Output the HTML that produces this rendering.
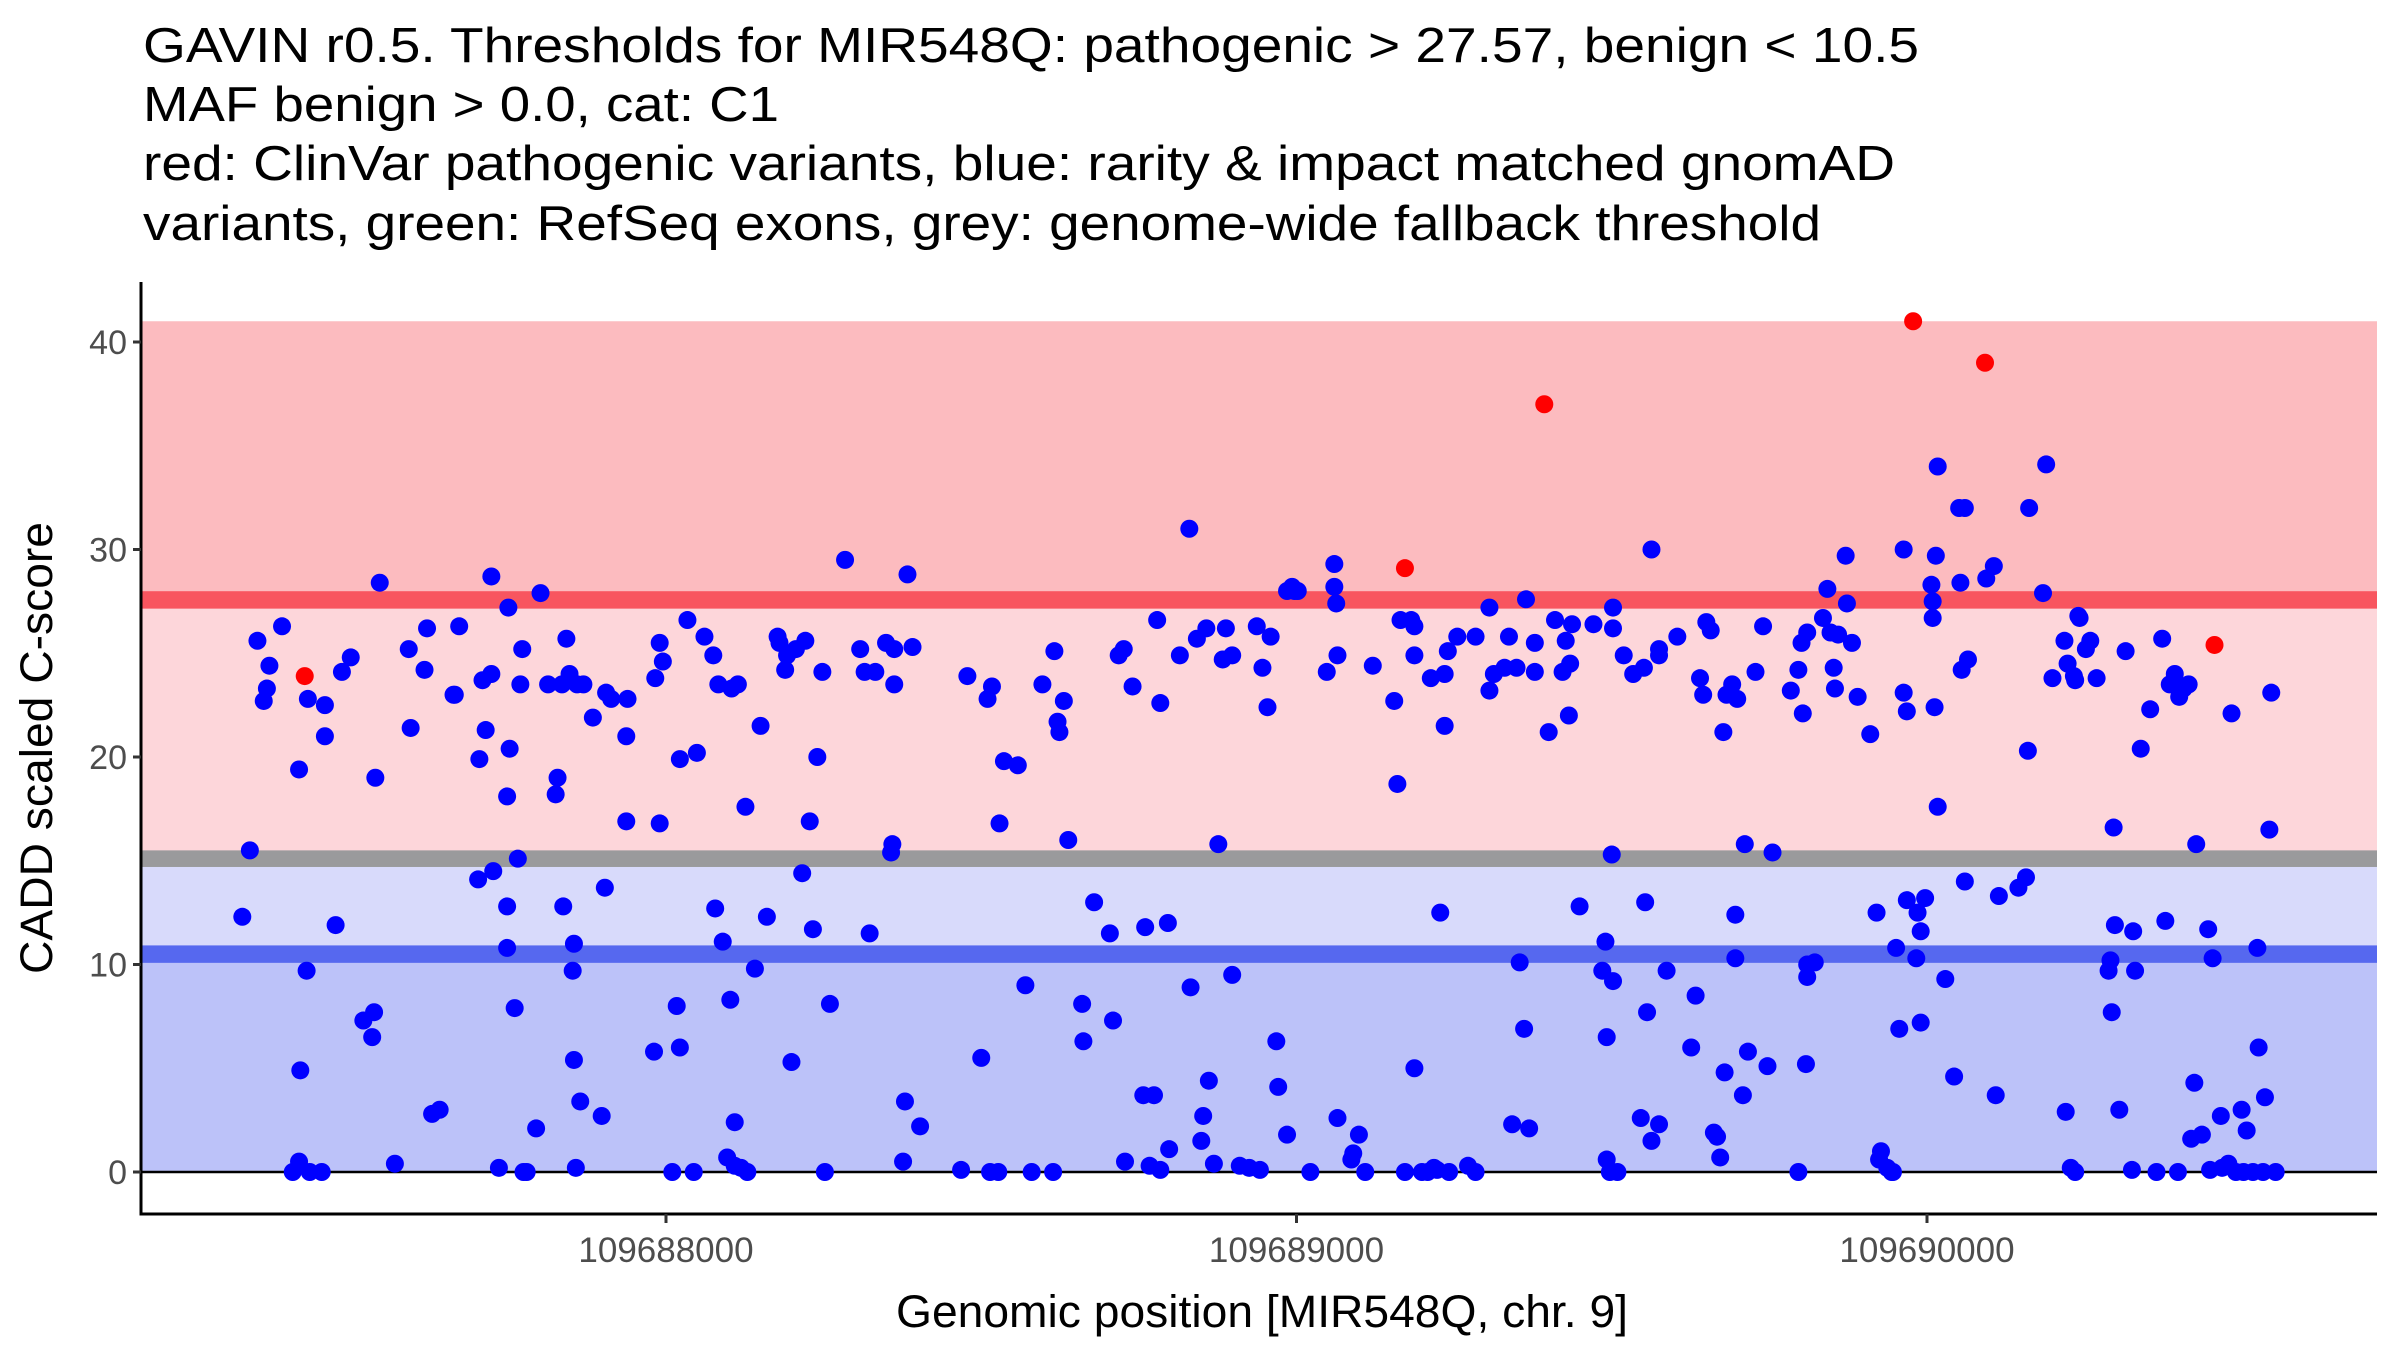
<!DOCTYPE html>
<html><head><meta charset="utf-8">
<style>
html,body{margin:0;padding:0;background:#fff;}
svg{display:block;font-family:"Liberation Sans",Arial,sans-serif;}
</style></head>
<body>
<svg id="chart" width="2400" height="1350" viewBox="0 0 2400 1350" xmlns="http://www.w3.org/2000/svg">
  <g font-size="49" fill="#000">
    <text x="143" y="62" textLength="1776" lengthAdjust="spacingAndGlyphs">GAVIN r0.5. Thresholds for MIR548Q: pathogenic &gt; 27.57, benign &lt; 10.5</text>
    <text x="143" y="121" textLength="636" lengthAdjust="spacingAndGlyphs">MAF benign &gt; 0.0, cat: C1</text>
    <text x="143" y="180" textLength="1752" lengthAdjust="spacingAndGlyphs">red: ClinVar pathogenic variants, blue: rarity &amp; impact matched gnomAD</text>
    <text x="143" y="240" textLength="1678" lengthAdjust="spacingAndGlyphs">variants, green: RefSeq exons, grey: genome-wide fallback threshold</text>
  </g>
  <g id="bands"></g>
  <g id="points"></g>
  <g id="axes"></g>
  <text x="1262" y="1327" font-size="45" text-anchor="middle" fill="#000" textLength="732" lengthAdjust="spacingAndGlyphs">Genomic position [MIR548Q, chr. 9]</text>
  <text transform="translate(52,748) rotate(-90)" font-size="45" text-anchor="middle" fill="#000" textLength="452" lengthAdjust="spacingAndGlyphs">CADD scaled C-score</text>
</svg>
<script>
// positions are given as bp offset from 109688000
const positionOrigin = 109688000;
const xTickValues = [109688000, 109689000, 109690000];
const yTickValues = [0, 10, 20, 30, 40];
const pathogenicThreshold = 27.57;
const benignThreshold = 10.5;
const fallbackThreshold = 15.1;
const bandTop = 41;
const redVariants = [[-573,23.9],[1172,29.1],[1393,37.0],[1978,41.0],[2092,39.0],[2456,25.4]];
const blueVariants = [
[-672,12.3],[-660,15.5],[-648,25.6],[-638,22.7],[-633,23.3],[-629,24.4],[-609,26.3],[-592,0],[-582,0.5],[-580,4.9],[-582,19.4],
[-570,9.7],[-568,22.8],[-565,0],[-546,0],[-541,22.5],[-541,21.0],[-524,11.9],[-514,24.1],[-500,24.8],[-480,7.3],[-463,7.7],[-466,6.5],
[-461,19.0],[-454,28.4],[-430,0.4],[-408,25.2],[-405,21.4],[-383,24.2],[-379,26.2],[-371,2.8],[-359,3.0],[-337,23.0],[-335,23.0],
[-328,26.3],[-298,14.1],[-296,19.9],[-291,23.7],[-286,21.3],[-277,28.7],[-277,24.0],[-274,14.5],[-265,0.2],[-252,10.8],[-252,12.8],
[-252,18.1],[-250,27.2],[-248,20.4],[-240,7.9],[-235,15.1],[-231,23.5],[-228,25.2],[-226,0],[-221,0],[-206,2.1],[-199,27.9],[-187,23.5],
[-175,18.2],[-172,19.0],[-165,23.5],[-163,12.8],[-158,25.7],[-153,24.0],[-148,9.7],[-146,11.0],[-146,5.4],[-143,0.2],[-141,23.5],
[-136,3.4],[-131,23.5],[-116,21.9],[-102,2.7],[-97,13.7],[-95,23.1],[-87,22.8],[-63,16.9],[-63,21.0],[-61,22.8],[-19,5.8],[-17,23.8],
[-10,16.8],[-10,25.5],[-5,24.6],[10,0],[17,8.0],[22,6.0],[22,19.9],[34,26.6],[44,0],[49,20.2],[61,25.8],[75,24.9],[78,12.7],[83,23.5],
[90,11.1],[97,0.7],[102,8.3],[104,23.3],[109,2.4],[109,0.3],[114,23.5],[119,0.2],[129,0],[126,17.6],[141,9.8],[150,21.5],[160,12.3],
[177,25.8],[180,25.5],[189,24.2],[192,24.9],[199,5.3],[206,25.2],[216,14.4],[221,25.6],[228,16.9],[233,11.7],[240,20.0],[248,24.1],
[252,0],[260,8.1],[284,29.5],[308,25.2],[315,24.1],[323,11.5],[332,24.1],[349,25.5],[357,15.4],[359,15.8],[362,25.2],[362,23.5],
[376,0.5],[379,3.4],[383,28.8],[391,25.3],[403,2.2],[468,0.1],[478,23.9],[500,5.5],[510,22.8],[514,0],[517,23.4],[527,0],[529,16.8],
[536,19.8],[558,19.6],[570,9.0],[580,0],[597,23.5],[614,0],[616,25.1],[621,21.7],[624,21.2],[631,22.7],[638,16.0],[660,8.1],[662,6.3],
[679,13.0],[704,11.5],[709,7.3],[718,24.9],[726,25.2],[728,0.5],[740,23.4],[757,3.7],[760,11.8],[767,0.3],[774,3.7],[779,26.6],
[784,22.6],[784,0.1],[796,12.0],[798,1.1],[815,24.9],[830,31.0],[832,8.9],[842,25.7],[849,1.5],[852,2.7],[857,26.2],[861,4.4],
[869,0.4],[876,15.8],[883,24.7],[888,26.2],[898,24.9],[898,9.5],[910,0.3],[925,0.2],[937,26.3],[942,0.1],[946,24.3],[954,22.4],
[959,25.8],[968,6.3],[971,4.1],[985,1.8],[985,28.0],[993,28.2],[997,28.0],[1002,28.0],[1022,0],[1048,24.1],[1060,29.3],[1060,28.2],
[1063,27.4],[1065,24.9],[1065,2.6],[1087,0.6],[1090,0.9],[1099,1.8],[1109,0],[1121,24.4],[1155,22.7],[1160,18.7],[1165,26.6],[1172,0],
[1182,26.6],[1187,26.3],[1187,24.9],[1187,5.0],[1199,0],[1208,0],[1213,23.8],[1218,0.2],[1223,0.1],[1228,12.5],[1235,24.0],[1235,21.5],
[1240,25.1],[1242,0],[1255,25.8],[1272,0.3],[1284,0],[1284,25.8],[1306,27.2],[1306,23.2],[1313,24.0],[1330,24.3],[1337,25.8],[1342,2.3],
[1349,24.3],[1354,10.1],[1361,6.9],[1364,27.6],[1369,2.1],[1378,25.5],[1378,24.1],[1400,21.2],[1410,26.6],[1422,24.1],[1427,25.6],
[1432,22.0],[1434,24.5],[1437,26.4],[1449,12.8],[1471,26.4],[1485,9.7],[1490,11.1],[1492,6.5],[1492,0.6],[1497,0],[1500,15.3],
[1502,27.2],[1502,26.2],[1502,9.2],[1509,0],[1519,24.9],[1534,24.0],[1546,2.6],[1551,24.3],[1553,13.0],[1556,7.7],[1563,1.5],[1575,2.3],
[1575,25.2],[1587,9.7],[1604,25.8],[1563,30.0],[1575,24.9],[1626,6.0],[1633,8.5],[1640,23.8],[1645,23.0],[1650,26.5],[1657,26.1],
[1662,1.9],[1667,1.7],[1672,0.7],[1677,21.2],[1679,4.8],[1682,23.0],[1691,23.5],[1696,12.4],[1696,10.3],[1699,22.8],[1708,3.7],
[1711,15.8],[1716,5.8],[1728,24.1],[1740,26.3],[1747,5.1],[1755,15.4],[1784,23.2],[1796,0],[1796,24.2],[1801,25.5],[1803,22.1],
[1810,26.0],[1810,10.0],[1808,5.2],[1810,9.4],[1822,10.1],[1835,26.7],[1842,28.1],[1847,26.0],[1852,24.3],[1854,23.3],[1859,25.9],
[1871,29.7],[1873,27.4],[1881,25.5],[1890,22.9],[1910,21.1],[1920,12.5],[1927,1.0],[1924,0.6],[1937,0.2],[1944,0],[1946,0],[1951,10.8],
[1956,6.9],[1963,23.1],[1963,30.0],[1968,22.2],[1968,13.1],[1983,10.3],[1985,12.5],[1990,11.6],[1990,7.2],[1997,13.2],[2007,28.3],
[2009,26.7],[2009,27.5],[2012,22.4],[2014,29.7],[2017,34.0],[2017,17.6],[2029,9.3],[2043,4.6],[2053,28.4],[2051,32.0],[2060,32.0],
[2055,24.2],[2060,14.0],[2065,24.7],[2094,28.6],[2106,29.2],[2109,3.7],[2114,13.3],[2145,13.7],[2157,14.2],[2160,20.3],[2162,32.0],
[2189,34.1],[2184,27.9],[2199,23.8],[2218,25.6],[2220,2.9],[2223,24.5],[2228,0.2],[2233,23.9],[2235,23.7],[2235,0],[2240,26.8],
[2242,26.7],[2252,25.2],[2259,25.6],[2269,23.8],[2288,9.7],[2291,10.2],[2293,7.7],[2296,16.6],[2298,11.9],[2305,3.0],[2315,25.1],
[2327,11.6],[2325,0.1],[2330,9.7],[2339,20.4],[2354,22.3],[2364,0],[2373,25.7],[2378,12.1],[2385,23.5],[2393,24.0],[2400,22.9],
[2398,0],[2407,23.3],[2415,23.5],[2419,1.6],[2424,4.3],[2427,15.8],[2436,1.8],[2446,11.7],[2449,0.1],[2453,10.3],[2466,2.7],[2468,0.2],
[2478,0.4],[2483,22.1],[2490,0],[2499,3.0],[2502,0],[2507,2.0],[2517,0],[2524,10.8],[2526,6.0],[2533,0],[2536,3.6],[2543,16.5],
[2546,23.1],[2553,0]
];

const NS = "http://www.w3.org/2000/svg";
const plotLeft = 141, plotRight = 2377, plotTop = 282, plotBottom = 1214;
function xScale(offsetBp){ return 666 + offsetBp * 0.6305; }
function xScaleAbs(pos){ return xScale(pos - positionOrigin); }
function yScale(v){ return 1172 - v * 20.75; }
function mk(tag, attrs, parent){
  const el = document.createElementNS(NS, tag);
  for (const k in attrs) el.setAttribute(k, attrs[k]);
  parent.appendChild(el);
  return el;
}
const bands = document.getElementById('bands');
function band(name, lo, hi, color){
  const r = mk('rect', {x: plotLeft, y: yScale(hi), width: plotRight - plotLeft, height: yScale(lo) - yScale(hi), fill: color}, bands);
  
  
}
band('pathogenic-band', pathogenicThreshold, bandTop, '#fcbbbf');
band('intermediate-band', fallbackThreshold, pathogenicThreshold, '#fdd6da');
band('low-intermediate-band', benignThreshold, fallbackThreshold, '#d8dafb');
band('benign-band', 0, benignThreshold, '#bcc2f9');
band('fallback-threshold-line', fallbackThreshold - 0.4, fallbackThreshold + 0.4, '#9a9a9c');
band('pathogenic-threshold-line', pathogenicThreshold - 0.42, pathogenicThreshold + 0.42, '#f8555f');
band('benign-threshold-line', benignThreshold - 0.42, benignThreshold + 0.42, '#5668ef');
const zl = mk('line', {x1: plotLeft, x2: plotRight, y1: yScale(0), y2: yScale(0), stroke: '#000', 'stroke-width': 2.5}, bands);



const pts = document.getElementById('points');
blueVariants.forEach(function(d){
  const c = mk('circle', {cx: xScale(d[0]), cy: yScale(d[1]), r: 9, fill: '#0000ff'}, pts);
  
  
});
redVariants.forEach(function(d){
  const c = mk('circle', {cx: xScale(d[0]), cy: yScale(d[1]), r: 9, fill: '#ff0000'}, pts);
  
  
});

const axes = document.getElementById('axes');
const ya = mk('line', {x1: plotLeft, x2: plotLeft, y1: plotTop, y2: plotBottom + 1.5, stroke: '#000', 'stroke-width': 3}, axes);


const xa = mk('line', {x1: plotLeft - 1.5, x2: plotRight, y1: plotBottom, y2: plotBottom, stroke: '#000', 'stroke-width': 3}, axes);


yTickValues.forEach(function(v){
  const t = mk('line', {x1: plotLeft - 8, x2: plotLeft, y1: yScale(v), y2: yScale(v), stroke: '#333', 'stroke-width': 3}, axes);
  
  
  const l = mk('text', {x: plotLeft - 14, y: yScale(v) + 12, 'font-size': 34, 'text-anchor': 'end', fill: '#4d4d4d'}, axes);
  l.textContent = String(v);
  
  
});
xTickValues.forEach(function(v){
  const x = xScaleAbs(v);
  const t = mk('line', {x1: x, x2: x, y1: plotBottom, y2: plotBottom + 9, stroke: '#333', 'stroke-width': 3}, axes);
  
  
  const l = mk('text', {x: x, y: 1262, 'font-size': 35, 'text-anchor': 'middle', fill: '#4d4d4d'}, axes);
  l.textContent = String(v);
  
  
});
</script>
</body></html>
